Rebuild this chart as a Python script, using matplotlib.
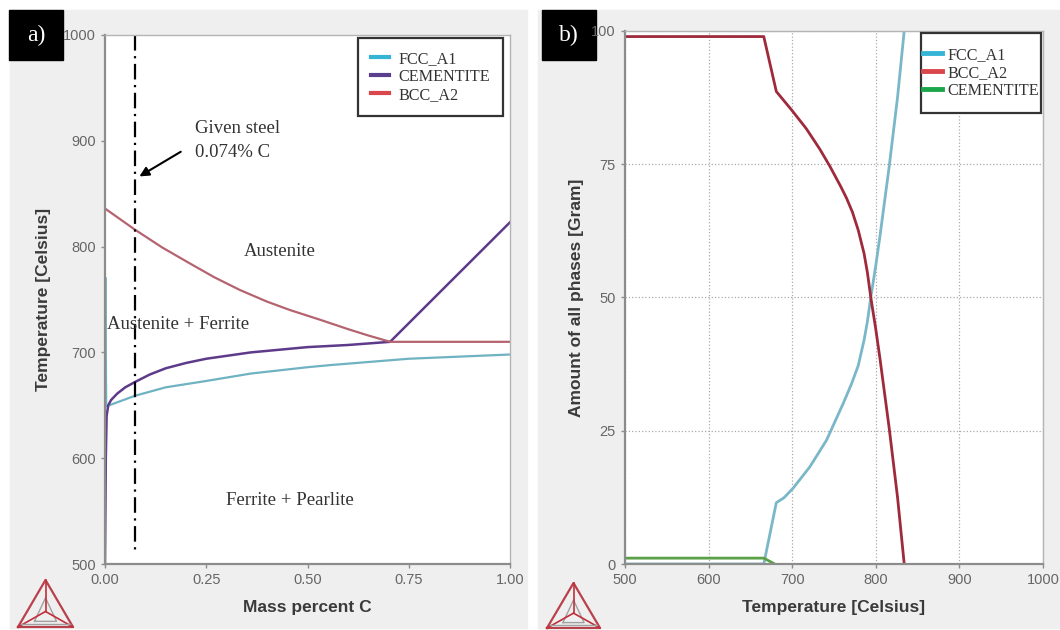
import matplotlib
matplotlib.use("Agg")
import matplotlib.pyplot as plt
from matplotlib.lines import Line2D
from matplotlib.patches import Rectangle

# ---- data: a) Fe-C phase diagram (mass percent C vs temperature)
fcc_c = [0.002, 0.002, 0.003, 0.074, 0.15, 0.25, 0.36, 0.5, 0.556, 0.75, 1.0]
fcc_t = [770, 700, 649, 659, 667, 673, 680, 686, 688, 694, 698]
cem_c = [0.0, 0.002, 0.004, 0.008, 0.015, 0.03, 0.05, 0.074, 0.11, 0.15, 0.2, 0.25,
         0.36, 0.5, 0.6, 0.704, 1.0]
cem_t = [500, 600, 640, 650, 655, 661, 667, 672, 679, 685, 690, 694,
         700, 705, 707, 710, 823]
bcc_c = [0.0, 0.074, 0.142, 0.21, 0.27, 0.333, 0.40, 0.457, 0.53, 0.6, 0.65, 0.704, 1.0]
bcc_t = [836, 816, 799, 784, 771, 759, 748, 740, 731, 722, 716, 710, 710]
steel_c = 0.074

# ---- data: b) amount of phases vs temperature
bcc_temp = [500, 666, 681, 700, 717, 733, 745, 758, 765, 772, 779, 786, 790, 794,
            800, 805, 816, 826, 834]
bcc_amt = [98.9, 98.9, 88.6, 85, 81.6, 77.8, 74.6, 70.8, 68.6, 66, 62.6, 58.2, 54.6, 50,
           44, 38.5, 25.5, 12.5, 0]
fcc_temp = [500, 666, 681, 690, 701, 721, 741, 761, 771, 779, 786, 790, 794,
            800, 805, 816, 826, 834]
fcc_amt = [0, 0, 11.5, 12.4, 14.2, 18.2, 23.2, 30.1, 33.8, 37.2, 42, 45.5, 50,
           56, 61.5, 74.5, 87.5, 100]
cem_temp = [500, 666, 679]
cem_amt = [1.1, 1.1, 0]

SERIF = "Liberation Serif"
SANS = "Liberation Sans"
plt.rcParams["font.family"] = [SANS, "DejaVu Sans"]

fig = plt.figure(figsize=(10.6, 6.3), dpi=100)
W, H = 1060, 630


def fx(x):
    return x / W


def fy(y):
    return 1 - y / H


# grey panel backgrounds + black label boxes
for x0, x1 in [(10, 527), (538, 1060)]:
    fig.patches.append(Rectangle((fx(x0), fy(628)), fx(x1 - x0), (628 - 10) / H,
                                 transform=fig.transFigure, color="#efefef", zorder=-2))
for x0, lab in [(9, "a)"), (542, "b)")]:
    fig.patches.append(Rectangle((fx(x0), fy(60)), fx(54), 50 / H,
                                 transform=fig.transFigure, color="black", zorder=-1))
    fig.text(fx(x0 + 27), fy(35), lab, color="white", family=SERIF, fontsize=17,
             ha="center", va="center")


def draw_logo(xl, yb, w, h):
    xr, xt, yt = xl + w, xl + w / 2, yb - h
    cx, cy = xt, yb - h * 0.33
    tri = [(xl, yb), (xr, yb), (xt, yt), (xl, yb)]
    fig.add_artist(Line2D([fx(p[0]) for p in tri], [fy(p[1]) for p in tri],
                          transform=fig.transFigure, color="#b8414b", lw=1.6))
    inner = [(xl + w * 0.3, yb - h * 0.12), (xr - w * 0.3, yb - h * 0.12),
             (xt, yb - h * 0.62), (xl + w * 0.3, yb - h * 0.12)]
    fig.add_artist(Line2D([fx(p[0]) for p in inner], [fy(p[1]) for p in inner],
                          transform=fig.transFigure, color="#a0a0a0", lw=1.0))
    for px_, py_ in tri[:3]:
        fig.add_artist(Line2D([fx(cx), fx(px_)], [fy(cy), fy(py_)],
                              transform=fig.transFigure, color="#c0303a", lw=1.2))
    fig.add_artist(Line2D([fx(xl + 3), fx(xr - 3)], [fy(yb - 3), fy(yb - 3)],
                          transform=fig.transFigure, color="#a0a0a0", lw=1.0))


draw_logo(18, 627, 55, 47)
draw_logo(547, 628, 53, 45)

LABEL = dict(fontsize=12.5, fontweight="bold", color="#3a3a3a")


def style_axes(ax):
    ax.set_facecolor("white")
    for s in ["left", "bottom"]:
        ax.spines[s].set_color("#8c8c8c")
        ax.spines[s].set_linewidth(1.6)
    for s in ["top", "right"]:
        ax.spines[s].set_color("#b4b4b4")
        ax.spines[s].set_linewidth(1.0)
    ax.tick_params(labelsize=10.5, labelcolor="#666666", color="#8c8c8c", length=3, width=1)


# ---------------- a)
ax1 = fig.add_axes([fx(105), fy(564), fx(405), 529 / H])
style_axes(ax1)
ax1.plot(fcc_c, fcc_t, color="#6fb2c2", lw=1.6)
ax1.plot(cem_c, cem_t, color="#5e3a8a", lw=1.8)
ax1.plot(bcc_c, bcc_t, color="#b5636f", lw=1.6)
ax1.plot([steel_c, steel_c], [1000, 510], color="black", lw=1.6,
         linestyle=(0, (7, 2.5, 1, 2.5)))
ax1.set_xlim(0, 1)
ax1.set_ylim(500, 1000)
ax1.set_xticks([0, 0.25, 0.5, 0.75, 1.0])
ax1.set_xticklabels(["0.00", "0.25", "0.50", "0.75", "1.00"])
ax1.set_yticks(range(500, 1001, 100))
ax1.set_xlabel("Mass percent C", labelpad=9, **LABEL)
ax1.set_ylabel("Temperature [Celsius]", labelpad=9, **LABEL)

txt = dict(family=SERIF, fontsize=13.5, color="#333333")
ax1.text(0.222, 912, "Given steel", ha="left", va="center", **txt)
ax1.text(0.222, 889, "0.074% C", ha="left", va="center", **txt)
ax1.annotate("", xy=(0.079, 865), xytext=(0.193, 891),
             arrowprops=dict(arrowstyle="-|>", color="black", lw=1.5, mutation_scale=14))
ax1.text(0.432, 795, "Austenite", ha="center", va="center", **txt)
ax1.text(0.181, 726, "Austenite + Ferrite", ha="center", va="center", **txt)
ax1.text(0.457, 560, "Ferrite + Pearlite", ha="center", va="center", **txt)

h1 = [Line2D([], [], color=c, lw=3) for c in ["#35b5d5", "#5b3f8f", "#d9474d"]]
leg1 = ax1.legend(h1, ["FCC_A1", "CEMENTITE", "BCC_A2"], loc="upper right",
                  bbox_to_anchor=(0.983, 0.994), prop={"family": SERIF, "size": 11.6},
                  fancybox=False, edgecolor="#333333", framealpha=1,
                  handlelength=1.1, handletextpad=0.6, borderpad=0.8,
                  labelspacing=0.12, borderaxespad=0)
leg1.get_frame().set_linewidth(1.6)
for t in leg1.get_texts():
    t.set_color("#333333")

# ---------------- b)
ax2 = fig.add_axes([fx(625), fy(564), fx(418), 533.3 / H])
style_axes(ax2)
ax2.grid(True, linestyle=":", color="#aaaaaa", lw=0.9)
ax2.set_axisbelow(True)
ax2.plot(fcc_temp, fcc_amt, color="#7ab7c8", lw=2)
ax2.plot(cem_temp, cem_amt, color="#5aa046", lw=2)
ax2.plot(bcc_temp, bcc_amt, color="#9e2a3c", lw=2)
ax2.set_xlim(500, 1000)
ax2.set_ylim(0, 100)
ax2.set_xticks(range(500, 1001, 100))
ax2.set_yticks([0, 25, 50, 75, 100])
ax2.set_xlabel("Temperature [Celsius]", labelpad=9, **LABEL)
ax2.set_ylabel("Amount of all phases [Gram]", labelpad=5, **LABEL)

ax2.add_patch(Rectangle((0.708, 0.846), 0.287, 0.15, transform=ax2.transAxes,
                        facecolor="white", edgecolor="#333333", lw=1.6, zorder=4))
h2 = [Line2D([], [], color=c, lw=3.5) for c in ["#35b5d5", "#d9474d", "#1aa64a"]]
leg2 = ax2.legend(h2, ["FCC_A1", "BCC_A2", "CEMENTITE"], loc="center",
                  bbox_to_anchor=(0.8515, 0.921), prop={"family": SERIF, "size": 11.6},
                  frameon=False, handlelength=1.2, handletextpad=0.3,
                  borderpad=0, labelspacing=0.12)
leg2.set_zorder(5)
for t in leg2.get_texts():
    t.set_color("#333333")

fig.savefig("out.png", dpi=100, facecolor="white")
